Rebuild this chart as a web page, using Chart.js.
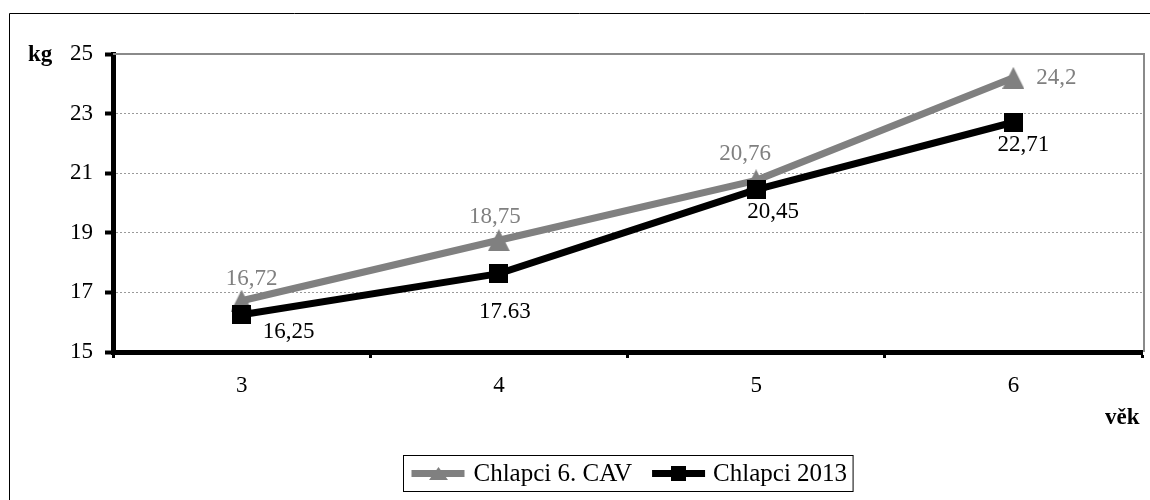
<!DOCTYPE html>
<html>
<head>
<meta charset="utf-8">
<script src="https://cdn.jsdelivr.net/npm/chart.js@4"></script>
<style>
  html, body { margin: 0; padding: 0; background: #fff; }
  #wrap { width: 1150px; height: 500px; }
</style>
</head>
<body>
<div id="wrap"><canvas id="c" width="1150" height="500"></canvas></div>
<script>
// Age categories and body weight (kg) of boys
const ages = ['3', '4', '5', '6'];
const boysCAV = [16.72, 18.75, 20.76, 24.2];
const boys2013 = [16.25, 17.63, 20.45, 22.71];
const labelsCAV = ['16,72', '18,75', '20,76', '24,2'];
const labels2013 = ['16,25', '17.63', '20,45', '22,71'];
const seriesNames = ['Chlapci 6. CAV', 'Chlapci 2013'];
const yMin = 15, yMax = 25, yStep = 2;
const yTitle = 'kg';
const xTitle = 'věk';

// Placement of the value labels relative to their points (px)
const offsetsCAV = [[10, -22], [-4, -23], [-11, -26], [43, 0]];
const offsets2013 = [[47, 17], [6, 38], [17, 22], [10, 23]];

const GRAY = '#808080';
const FONT = '"Liberation Serif", "Times New Roman", serif';

function makeTriangle(w, h, color) {
  const c = document.createElement('canvas');
  c.width = w; c.height = h;
  const g = c.getContext('2d');
  g.fillStyle = color;
  g.beginPath();
  g.moveTo(w / 2, 0); g.lineTo(w, h); g.lineTo(0, h); g.closePath();
  g.fill();
  return c;
}
function makeSquare(s, color) {
  const c = document.createElement('canvas');
  c.width = s; c.height = s;
  const g = c.getContext('2d');
  g.fillStyle = color;
  g.fillRect(0, 0, s, s);
  return c;
}
const triMarker = makeTriangle(22, 22, GRAY);
const sqMarker = makeSquare(19, '#000');
const triSmall = makeTriangle(19, 13, GRAY);
const sqSmall = makeSquare(15, '#000');

// Outer frame, plot frame, axis titles, value labels and legend
const decorations = {
  id: 'decorations',
  beforeDraw(chart) {
    const ctx = chart.ctx;
    ctx.save();
    ctx.fillStyle = '#fff';
    ctx.fillRect(0, 0, chart.width, chart.height);
    ctx.strokeStyle = '#000';
    ctx.lineWidth = 1;
    ctx.beginPath();
    ctx.moveTo(9.5, chart.height);
    ctx.lineTo(9.5, 13.5);
    ctx.lineTo(chart.width, 13.5);
    ctx.stroke();
    ctx.restore();
  },
  afterDatasetsDraw(chart) {
    const ctx = chart.ctx;
    const a = chart.chartArea;
    ctx.save();
    // top and right edges of the plot area
    ctx.strokeStyle = '#8a8a8a';
    ctx.lineWidth = 2;
    ctx.beginPath();
    ctx.moveTo(a.left, a.top);
    ctx.lineTo(a.right + 2, a.top);
    ctx.lineTo(a.right + 2, a.bottom);
    ctx.stroke();

    // value labels
    ctx.font = '23px ' + FONT;
    ctx.textAlign = 'center';
    ctx.textBaseline = 'middle';
    const sets = [[0, labelsCAV, offsetsCAV, GRAY], [1, labels2013, offsets2013, '#000']];
    sets.forEach(([di, texts, offs, col]) => {
      const meta = chart.getDatasetMeta(di);
      ctx.fillStyle = col;
      meta.data.forEach((pt, i) => {
        ctx.fillText(texts[i], pt.x + offs[i][0], pt.y + offs[i][1]);
      });
    });

    // axis titles
    ctx.font = 'bold 23px ' + FONT;
    ctx.fillStyle = '#000';
    ctx.textAlign = 'left';
    ctx.textBaseline = 'alphabetic';
    ctx.fillText(yTitle, 28, 61);
    ctx.fillText(xTitle, 1105, 424);

    // legend
    ctx.font = '25px ' + FONT;
    const w1 = ctx.measureText(seriesNames[0]).width;
    const w2 = ctx.measureText(seriesNames[1]).width;
    const sample = 53;
    const total = 8 + sample + 9 + w1 + 20 + sample + 8 + w2 + 6;
    const cx = (a.left + a.right) / 2;
    const bx = Math.round(cx - total / 2) + 0.5;
    const by = 455.5, bh = 36;
    ctx.strokeStyle = '#000';
    ctx.lineWidth = 1;
    ctx.strokeRect(bx, by, total, bh);
    const my = by + bh / 2;
    let x = bx + 8;
    const drawSample = (color, marker) => {
      ctx.strokeStyle = color;
      ctx.lineWidth = 7;
      ctx.beginPath();
      ctx.moveTo(x, my); ctx.lineTo(x + sample, my);
      ctx.stroke();
      ctx.drawImage(marker, Math.round(x + sample / 2 - marker.width / 2), Math.round(my - marker.height / 2));
    };
    drawSample(GRAY, triSmall);
    x += sample + 9;
    ctx.fillStyle = '#000';
    ctx.textBaseline = 'middle';
    ctx.fillText(seriesNames[0], x, my + 1);
    x += w1 + 20;
    drawSample('#000', sqSmall);
    x += sample + 8;
    ctx.fillText(seriesNames[1], x, my + 1);
    ctx.restore();
  }
};

new Chart(document.getElementById('c'), {
  type: 'line',
  data: {
    labels: ages,
    datasets: [
      {
        label: seriesNames[0],
        data: boysCAV,
        borderColor: GRAY,
        backgroundColor: GRAY,
        borderWidth: 7,
        pointStyle: triMarker,
        pointRadius: 11,
        tension: 0,
        order: 2
      },
      {
        label: seriesNames[1],
        data: boys2013,
        borderColor: '#000',
        backgroundColor: '#000',
        borderWidth: 7,
        pointStyle: sqMarker,
        pointRadius: 10,
        tension: 0,
        order: 1
      }
    ]
  },
  options: {
    responsive: false,
    animation: false,
    events: [],
    layout: { autoPadding: false, padding: { left: 0, top: 54, right: 8, bottom: 0 } },
    plugins: { legend: { display: false }, tooltip: { enabled: false } },
    scales: {
      x: {
        offset: true,
        afterFit(s) { s.height = 148; },
        grid: {
          offset: true,
          drawOnChartArea: false,
          drawTicks: true,
          tickLength: 6,
          tickColor: '#000',
          tickWidth: 3
        },
        border: { color: '#000', width: 5 },
        ticks: { color: '#000', font: { family: FONT, size: 23 }, padding: 14, maxRotation: 0 }
      },
      y: {
        min: yMin,
        max: yMax,
        afterFit(s) { s.width = 113; },
        grid: {
          color: '#9a9a9a',
          lineWidth: 1,
          drawTicks: true,
          tickLength: 8,
          tickColor: '#000',
          tickWidth: 4
        },
        border: { color: '#000', width: 5, dash: [2, 2] },
        ticks: { stepSize: yStep, color: '#000', font: { family: FONT, size: 23 }, padding: 12 }
      }
    }
  },
  plugins: [decorations]
});
</script>
</body>
</html>
